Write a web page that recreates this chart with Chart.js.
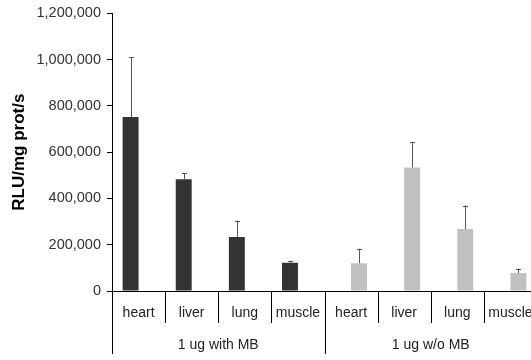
<!DOCTYPE html>
<html>
<head>
<meta charset="utf-8">
<script src="https://cdn.jsdelivr.net/npm/chart.js@4"></script>
<style>
  html, body { margin: 0; padding: 0; background: #fff; overflow: hidden; }
  #wrap { width: 540px; height: 360px; }
</style>
</head>
<body>
<div id="wrap"><canvas id="chart"></canvas></div>
<script>
// ===== DATA =====
const categories = ['heart', 'liver', 'lung', 'muscle', 'heart', 'liver', 'lung', 'muscle'];
const groups     = ['1 ug with MB', '1 ug w/o MB'];
const withMB     = [752000, 483000, 233000, 122000, null, null, null, null];
const withMBErr  = [257000, 26000, 71000, 9000, null, null, null, null];
const withoutMB    = [null, null, null, null, 120000, 534000, 268000, 78000];
const withoutMBErr = [null, null, null, null, 63000, 110000, 101000, 19000];
const yTicks = [0, 200000, 400000, 600000, 800000, 1000000, 1200000];

const FONT = 'Liberation Sans, Arial, sans-serif';

// error bars (upper only)
const errorBars = {
  id: 'errorBars',
  afterDatasetsDraw(chart) {
    const ctx = chart.ctx;
    const y = chart.scales.y;
    chart.data.datasets.forEach((ds, i) => {
      const meta = chart.getDatasetMeta(i);
      meta.data.forEach((bar, j) => {
        const v = ds.data[j], e = ds.errors[j];
        if (v == null || e == null) return;
        const top = y.getPixelForValue(v + e);
        ctx.save();
        ctx.strokeStyle = '#555';
        ctx.lineWidth = 1;
        ctx.beginPath();
        ctx.moveTo(Math.round(bar.x) + 0.5, bar.y);
        ctx.lineTo(Math.round(bar.x) + 0.5, top);
        ctx.moveTo(Math.round(bar.x) - 2, Math.round(top) + 0.5);
        ctx.lineTo(Math.round(bar.x) + 3, Math.round(top) + 0.5);
        ctx.stroke();
        ctx.restore();
      });
    });
  }
};

// two-level category axis
const groupAxis = {
  id: 'groupAxis',
  afterDraw(chart) {
    const ctx = chart.ctx;
    const area = chart.chartArea;
    const n = categories.length;
    const w = (area.right - area.left) / n;
    const b = area.bottom;
    ctx.save();
    ctx.strokeStyle = '#000';
    ctx.lineWidth = 1;
    ctx.beginPath();
    for (let i = 0; i <= n; i++) {
      const px = Math.round(area.left + i * w) + 0.5;
      const long = (i % 4 === 0);
      ctx.moveTo(px, b);
      ctx.lineTo(px, b + (long ? 63 : 32));
    }
    ctx.stroke();
    ctx.fillStyle = '#222';
    ctx.font = '14px ' + FONT;
    ctx.textAlign = 'center';
    ctx.textBaseline = 'middle';
    categories.forEach((c, i) => {
      ctx.fillText(c, area.left + (i + 0.5) * w, b + 22);
    });
    groups.forEach((g, k) => {
      ctx.fillText(g, area.left + (k * 4 + 2) * w, b + 54);
    });
    ctx.restore();
  }
};

new Chart(document.getElementById('chart'), {
  type: 'bar',
  data: {
    labels: categories,
    datasets: [
      { label: groups[0], data: withMB, errors: withMBErr, backgroundColor: '#333333',
        categoryPercentage: 0.6, barPercentage: 1.0 },
      { label: groups[1], data: withoutMB, errors: withoutMBErr, backgroundColor: '#c0c0c0',
        categoryPercentage: 0.6, barPercentage: 1.0 }
    ]
  },
  options: {
    responsive: true,
    maintainAspectRatio: false,
    animation: false,
    layout: { padding: { top: 11, right: 3, left: 0, bottom: 0 } },
    plugins: { legend: { display: false }, tooltip: { enabled: false } },
    scales: {
      x: {
        ticks: { display: false },
        grid: { display: false },
        border: { display: true, color: '#000', width: 1 },
        afterFit(scale) { scale.height = 69; }
      },
      y: {
        min: 0,
        max: 1200000,
        afterBuildTicks(scale) { scale.ticks = yTicks.map(v => ({ value: v })); },
        ticks: {
          color: '#333',
          font: { family: FONT, size: 14.5, lineHeight: 1 },
          padding: 6,
          callback: v => v.toLocaleString('en-US')
        },
        grid: { display: true, drawOnChartArea: false, drawTicks: true, tickLength: 5, color: '#000' },
        border: { display: true, color: '#000', width: 1 },
        title: {
          display: true,
          text: 'RLU/mg prot/s',
          color: '#000',
          font: { family: FONT, size: 17, weight: 'bold' },
          padding: { top: 9, bottom: 0 }
        },
        afterFit(scale) { scale.width = 112; }
      }
    }
  },
  plugins: [errorBars, groupAxis]
});
</script>
</body>
</html>
